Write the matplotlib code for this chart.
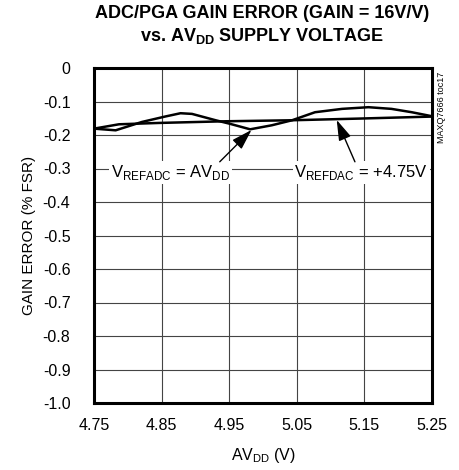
import numpy as np
import matplotlib
matplotlib.use("Agg")
import matplotlib.pyplot as plt
from matplotlib import font_manager

# Font: narrow Arial look-alike if present
names = {f.name for f in font_manager.fontManager.ttflist}
font = "Liberation Sans Narrow" if "Liberation Sans Narrow" in names else "Liberation Sans"
plt.rcParams["font.family"] = [font, "DejaVu Sans"]
plt.rcParams["mathtext.fontset"] = "custom"
plt.rcParams["mathtext.rm"] = font
plt.rcParams["mathtext.bf"] = font + ":bold"

# Data
avdd_adc = [4.75, 4.782, 4.821, 4.855, 4.878, 4.895, 4.93, 4.95, 4.981,
            5.013, 5.043, 5.077, 5.117, 5.156, 5.19, 5.22, 5.25]
err_adc = [-0.181, -0.186, -0.161, -0.145, -0.135, -0.137, -0.156, -0.166, -0.183,
           -0.171, -0.156, -0.132, -0.122, -0.117, -0.122, -0.132, -0.144]
avdd_dac = [4.75, 4.787, 4.846, 4.945, 5.043, 5.142, 5.25]
err_dac = [-0.181, -0.168, -0.164, -0.159, -0.156, -0.151, -0.145]

xticks = [4.75, 4.85, 4.95, 5.05, 5.15, 5.25]
yticks = np.round(np.arange(0, -1.01, -0.1), 1)
ylabels = ["0"] + ["%.1f" % v for v in yticks[1:]]

fig = plt.figure(figsize=(4.59, 4.70), dpi=100)
ax = fig.add_axes([94 / 459, 1 - 403 / 470, 338 / 459, 335 / 470])

ax.plot(avdd_adc, err_adc, color="black", lw=1.8, zorder=3)
ax.plot(avdd_dac, err_dac, color="black", lw=1.8, zorder=3)

ax.set_xlim(4.75, 5.25)
ax.set_ylim(-1.0, 0)
ax.set_xticks(xticks)
ax.set_xticklabels(["%.2f" % v for v in xticks])
ax.set_yticks(yticks)
ax.set_yticklabels(ylabels)
ax.tick_params(length=0, labelsize=11.5)
ax.tick_params(axis="x", pad=11)
ax.tick_params(axis="y", pad=17)
ax.grid(True, color="#444444", lw=0.8)
for s in ax.spines.values():
    s.set_linewidth(2.2)

# Labels with white boxes (hide the gridline behind them)
bbox = dict(boxstyle="square,pad=0.1", fc="white", ec="none")
ax.text(4.863, -0.312, r"V$_{\mathrm{REFADC}}$ = AV$_{\mathrm{DD}}$", ha="center",
        va="center", fontsize=12, bbox=bbox, zorder=4)
ax.text(5.145, -0.312, r"V$_{\mathrm{REFDAC}}$ = +4.75V", ha="center",
        va="center", fontsize=12, bbox=bbox, zorder=4)

arrow = dict(arrowstyle="-|>,head_length=0.9,head_width=0.28", color="black",
             lw=1.0, mutation_scale=14, shrinkA=0, shrinkB=0)
ax.annotate("", xy=(4.983, -0.185), xytext=(4.936, -0.28), arrowprops=arrow, zorder=5)
ax.annotate("", xy=(5.109, -0.155), xytext=(5.136, -0.28), arrowprops=arrow, zorder=5)

ax.set_xlabel(r"AV$_{\mathrm{DD}}$ (V)", fontsize=11.5, labelpad=9)
ax.set_ylabel("GAIN ERROR (% FSR)", fontsize=11, labelpad=5)

fig.text(262 / 459, 1 - 13 / 470, "ADC/PGA GAIN ERROR (GAIN = 16V/V)",
         ha="center", va="center", fontsize=13, fontweight="bold")
fig.text(262 / 459, 1 - 36 / 470, r"vs. AV$_{\mathbf{DD}}$ SUPPLY VOLTAGE",
         ha="center", va="center", fontsize=13, fontweight="bold")
fig.text(441 / 459, 1 - 107 / 470, "MAXQ7666 toc17", rotation=90,
         ha="center", va="center", fontsize=6.5)

fig.savefig("out.png", dpi=100)
